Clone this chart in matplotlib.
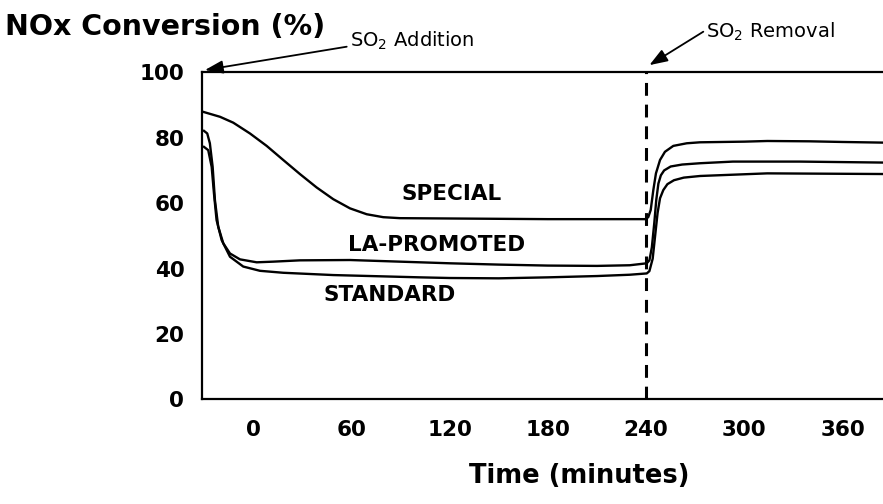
import matplotlib
matplotlib.use("Agg")
import matplotlib.pyplot as plt

# NOx conversion vs time for three catalysts; SO2 switched on before t=0, off at 240 min
special_t = [-30.5, -20.3, -12.2, -2, 8.2, 18.3, 28.5, 38.7, 48.9, 59.1, 69.3, 79.4, 89.6,
             120, 150, 180, 210, 239.5, 241.3, 242.8, 244.4, 246, 248.5, 251.5, 256.6,
             264.8, 272.9, 300, 314, 340, 360, 385]
special_v = [87.9, 86.4, 84.6, 81.3, 77.5, 73.2, 68.9, 64.8, 61.2, 58.4, 56.6, 55.7, 55.4,
             55.3, 55.2, 55.1, 55.1, 55.1, 55.7, 57.9, 64.0, 69.1, 73.2, 75.7, 77.5,
             78.3, 78.6, 78.8, 79.0, 78.9, 78.7, 78.5]

la_t = [-30.1, -28.1, -26.5, -24.8, -23.4, -21.4, -18.3, -14.2, -8.1, 2.1, 12.2, 28.5,
        59.1, 89.6, 101.9, 120, 150, 180, 210, 230, 240.4, 242, 243.5, 245, 246.2,
        247.5, 249, 251, 255, 262, 273, 293, 334, 385]
la_v = [82.1, 81.3, 78.3, 71.1, 60.9, 52.8, 47.7, 44.6, 42.8, 41.9, 42.1, 42.5,
        42.6, 42.1, 41.9, 41.6, 41.2, 40.9, 40.8, 41.0, 41.6, 42.5, 46.5, 54.0, 61.0,
        66.0, 68.5, 70.0, 71.2, 71.8, 72.2, 72.7, 72.7, 72.4]

std_t = [-30.1, -27.5, -25.4, -24, -22.4, -19.3, -14.2, -6.1, 4.1, 18.3, 48.9, 101.9,
         120, 150, 180, 210, 230, 240.4, 242, 244, 245.5, 247, 248.5, 250.5, 253, 257,
         263, 273, 314, 385]
std_v = [77.2, 76.2, 71.1, 63.0, 54.8, 48.7, 43.6, 40.6, 39.3, 38.7, 38.0, 37.3,
         37.1, 37.0, 37.3, 37.7, 38.1, 38.5, 39.2, 43.0, 50.0, 57.0, 61.5, 64.0, 65.8, 67.0,
         67.8, 68.3, 69.1, 68.9]

x_ticks = [0, 60, 120, 180, 240, 300, 360]
y_ticks = [0, 20, 40, 60, 80, 100]
so2_off = 240

fig = plt.figure(figsize=(8.83, 5.04), dpi=100)
ax = fig.add_axes([0.2284, 0.2077, 0.7716, 0.6488])

for t, v in [(special_t, special_v), (la_t, la_v), (std_t, std_v)]:
    ax.plot(t, v, color="black", lw=1.7, solid_joinstyle="round")

ax.plot([so2_off, so2_off], [0, 100], color="black", lw=2.2, dashes=(4.2, 2.9))

ax.set_xlim(-31.5, 384.7)
ax.set_ylim(0, 100)
ax.set_xticks(x_ticks)
ax.set_yticks(y_ticks)
ax.tick_params(length=0)
ax.tick_params(axis="x", pad=15)
ax.tick_params(axis="y", pad=12.5)
for lab in ax.get_xticklabels() + ax.get_yticklabels():
    lab.set_fontweight("bold")
    lab.set_fontsize(15.5)

ax.spines["right"].set_visible(False)
for side in ["left", "bottom", "top"]:
    ax.spines[side].set_linewidth(1.6)

# curve labels
lbl = dict(ha="center", va="center", fontsize=15.5, fontweight="bold")
ax.text(121.4, 62.7, "SPECIAL", **lbl)
ax.text(111.7, 47.3, "LA-PROMOTED", **lbl)
ax.text(83.3, 31.8, "STANDARD", **lbl)

fig.text(5 / 883, 1 - 35 / 504, "NOx Conversion (%)", ha="left", va="baseline",
         fontsize=20.5, fontweight="bold")
fig.text(579 / 883, (504 - 482.7) / 504, "Time (minutes)", ha="center", va="baseline",
         fontsize=18.5, fontweight="bold")

# SO2 markers
arrow = dict(arrowstyle="-|>,head_length=0.55,head_width=0.2", color="black", lw=1.3,
             mutation_scale=20, shrinkA=0, shrinkB=0)
ax.annotate("", xy=(-29.5, 100.7), xytext=(346.7 / 883, 1 - 46.7 / 504),
            textcoords="figure fraction", arrowprops=arrow, annotation_clip=False)
ax.annotate("", xy=(242, 102.2), xytext=(703.3 / 883, 1 - 31.7 / 504),
            textcoords="figure fraction", arrowprops=arrow, annotation_clip=False)
fig.text(350 / 883, 1 - 41 / 504, "SO$_2$ Addition", ha="left", va="center", fontsize=14)
fig.text(706 / 883, 1 - 32 / 504, "SO$_2$ Removal", ha="left", va="center", fontsize=14)

fig.savefig("out.png", dpi=100)
